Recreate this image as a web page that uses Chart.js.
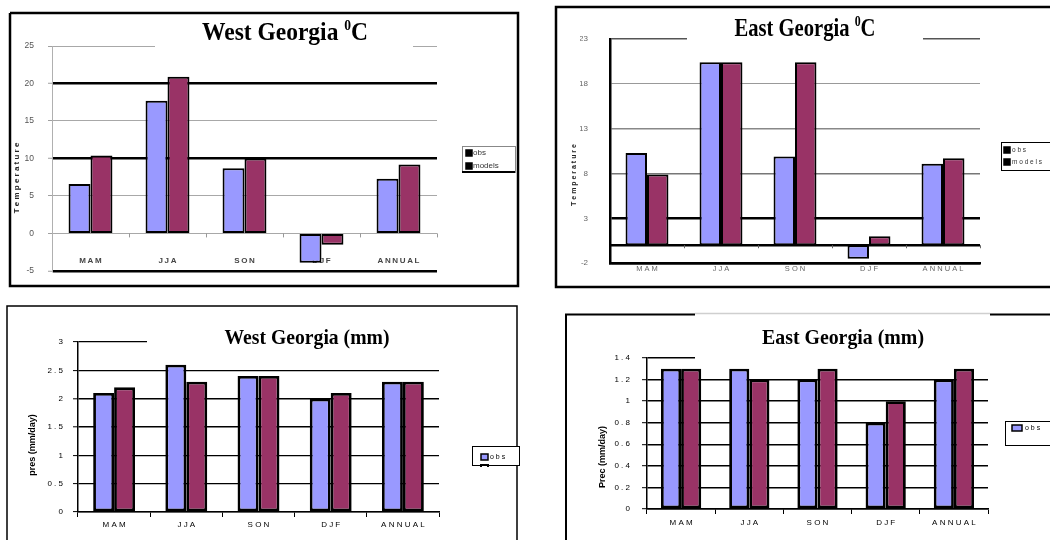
<!DOCTYPE html>
<html>
<head>
<meta charset="utf-8">
<script src="https://cdn.jsdelivr.net/npm/chart.js@4"></script>
<style>
  html, body { margin: 0; padding: 0; background: #fff; }
  body { width: 1050px; height: 540px; position: relative; overflow: hidden; }
  canvas { position: absolute; }
</style>
</head>
<body>
<canvas id="westTemp" width="525" height="290" style="left:0;top:0"></canvas>
<canvas id="eastTemp" width="510" height="290" style="left:540px;top:0"></canvas>
<canvas id="westPrec" width="530" height="250" style="left:0;top:290px"></canvas>
<canvas id="eastPrec" width="510" height="250" style="left:540px;top:290px"></canvas>
<script>
// Seasons shown on every panel
const seasons = ['MAM', 'JJA', 'SON', 'DJF', 'ANNUAL'];
const seriesNames = ['obs', 'models'];

// Mean temperature (deg C)
const westTempObs    = [6.6, 17.7, 8.7, -3.9, 7.3];
const westTempModels = [10.4, 20.9, 10.0, -1.5, 9.2];
const eastTempObs    = [10.3, 20.4, 9.9, -1.5, 9.1];
const eastTempModels = [7.9, 20.4, 20.4, 1.0, 9.7];

// Mean precipitation (mm/day)
const westPrecObs    = [2.1, 2.6, 2.4, 2.0, 2.3];
const westPrecModels = [2.2, 2.3, 2.4, 2.1, 2.3];
const eastPrecObs    = [1.3, 1.3, 1.2, 0.8, 1.2];
const eastPrecModels = [1.3, 1.2, 1.3, 1.0, 1.3];

// Value-axis tick marks
const westTempTicks = [-5, 0, 5, 10, 15, 20, 25];
const eastTempTicks = [-2, 3, 8, 13, 18, 23];
const westPrecTicks = [0, 0.5, 1, 1.5, 2, 2.5, 3];
const eastPrecTicks = [0, 0.2, 0.4, 0.6, 0.8, 1, 1.2, 1.4];

const OBS_COLOR = '#9999ff';
const MOD_COLOR = '#993366';
const SANS = '"Liberation Sans", Arial, sans-serif';
const SERIF = '"Liberation Serif", "Times New Roman", serif';

const spaced = s => String(s).split('').join(' ');
const thinSpaced = s => String(s).split('').join('\u2009');

// Heading drawn on a white plate that masks the top grid line
function drawHeading(ctx, t) {
  ctx.save();
  ctx.fillStyle = '#fff';
  ctx.fillRect(t.plate[0], t.plate[1], t.plate[2], t.plate[3]);
  if (t.edge) {
    ctx.strokeStyle = t.edge;
    ctx.lineWidth = 1.5;
    ctx.beginPath();
    ctx.moveTo(t.plate[0], t.plate[1] + 0.5);
    ctx.lineTo(t.plate[0] + t.plate[2], t.plate[1] + 0.5);
    ctx.stroke();
  }
  const mainFont = `bold ${t.size}px ${SERIF}`;
  const supFont = `bold ${Math.round(t.size * 0.58)}px ${SERIF}`;
  let total = 0;
  const widths = t.parts.map(p => {
    ctx.font = p.sup ? supFont : mainFont;
    const w = ctx.measureText(p.text).width;
    total += w;
    return w;
  });
  const sx = t.width / total;
  ctx.translate(t.cx - t.width / 2, t.base);
  ctx.scale(sx, 1);
  ctx.fillStyle = '#000';
  ctx.textBaseline = 'alphabetic';
  let x = 0;
  t.parts.forEach((p, i) => {
    ctx.font = p.sup ? supFont : mainFont;
    ctx.fillText(p.text, x, p.sup ? -t.size * 0.4 : 0);
    x += widths[i];
  });
  ctx.restore();
}

function decorPlugin(o) {
  return {
    id: 'panelDecor',
    beforeDraw(chart) {
      const ctx = chart.ctx;
      ctx.save();
      ctx.lineJoin = 'miter';
      for (const f of o.frame) {
        ctx.strokeStyle = f.color;
        ctx.lineWidth = f.width;
        ctx.beginPath();
        f.pts.forEach((p, i) => i ? ctx.lineTo(p[0], p[1]) : ctx.moveTo(p[0], p[1]));
        ctx.stroke();
      }
      ctx.restore();
    },
    beforeDatasetsDraw(chart) {
      const ctx = chart.ctx;
      const area = chart.chartArea;
      const yz = chart.scales.y.getPixelForValue(0);
      ctx.save();
      if (o.zero) {
        if (o.zero.line) {
          ctx.strokeStyle = o.zero.color;
          ctx.lineWidth = o.zero.line;
          ctx.beginPath();
          ctx.moveTo(area.left, yz);
          ctx.lineTo(area.right, yz);
          ctx.stroke();
        }
        const step = (area.right - area.left) / seasons.length;
        ctx.strokeStyle = o.zero.tickColor;
        ctx.lineWidth = 1;
        for (let k = 1; k <= seasons.length; k++) {
          const x = Math.round(area.left + k * step) + 0.5;
          ctx.beginPath();
          ctx.moveTo(x, yz);
          ctx.lineTo(x, yz + o.zero.tick);
          ctx.stroke();
        }
      }
      ctx.restore();
      drawHeading(ctx, o.heading);
    },
    afterDraw(chart) {
      const ctx = chart.ctx;
      // rotated value-axis caption
      const s = o.side;
      ctx.save();
      ctx.translate(s.x, s.y);
      ctx.rotate(-Math.PI / 2);
      ctx.font = `bold ${s.size}px ${SANS}`;
      ctx.fillStyle = s.color;
      ctx.textAlign = 'center';
      ctx.textBaseline = 'middle';
      ctx.fillText(s.text, 0, 0);
      ctx.restore();

      // boxed legend
      const L = o.legend;
      ctx.save();
      ctx.fillStyle = '#fff';
      ctx.fillRect(L.x, L.y, L.w, L.h);
      ctx.strokeStyle = L.border;
      ctx.lineWidth = 1;
      ctx.strokeRect(L.x + 0.5, L.y + 0.5, L.w, L.h);
      if (L.bottom) {
        ctx.strokeStyle = '#000';
        ctx.lineWidth = L.bottom;
        ctx.beginPath();
        ctx.moveTo(L.x, L.y + L.h);
        ctx.lineTo(L.x + L.w, L.y + L.h);
        ctx.stroke();
      }
      ctx.beginPath();
      ctx.rect(L.x, L.y, L.w + 1, L.h + 2);
      ctx.clip();
      chart.data.datasets.forEach((ds, i) => {
        if (i >= L.rows) return;
        const ry = L.y + L.first + i * L.step;
        ctx.fillStyle = L.swatch || ds.backgroundColor;
        ctx.fillRect(L.sx, ry - L.sh / 2, L.sw, L.sh);
        ctx.strokeStyle = '#000';
        ctx.lineWidth = 1.5;
        ctx.strokeRect(L.sx, ry - L.sh / 2, L.sw, L.sh);
        ctx.font = `${L.size}px ${SANS}`;
        ctx.fillStyle = L.color;
        ctx.textBaseline = 'middle';
        ctx.fillText(L.fmt(ds.label), L.sx + L.sw + L.gap, ry);
      });
      if (L.ghost) {
        // next entry's swatch peeking under the lower edge
        const ry = L.y + L.first + L.rows * L.step;
        ctx.strokeStyle = '#000';
        ctx.lineWidth = 2;
        ctx.strokeRect(L.sx, ry - L.sh / 2, L.sw, L.sh);
      }
      ctx.restore();
    }
  };
}

function buildChart(id, o) {
  const lineStyle = v => o.grid[String(v)] || o.gridDefault;
  const ds = (label, data, color) => ({
    label, data,
    backgroundColor: color,
    borderColor: '#000',
    borderWidth: o.barBorder,
    borderSkipped: false,
    categoryPercentage: o.cat,
    barPercentage: 1
  });
  return new Chart(document.getElementById(id), {
    type: 'bar',
    data: {
      labels: seasons,
      datasets: [ds(seriesNames[0], o.obs, OBS_COLOR), ds(seriesNames[1], o.models, MOD_COLOR)]
    },
    options: {
      responsive: false,
      animation: false,
      devicePixelRatio: 1,
      layout: { padding: o.pad },
      plugins: { legend: { display: false }, tooltip: { enabled: false }, title: { display: false } },
      scales: {
        x: {
          grid: {
            drawOnChartArea: false,
            drawTicks: o.xTicks > 0,
            tickLength: o.xTicks,
            tickColor: '#000',
            tickWidth: 1
          },
          border: o.xBorder ? { display: true, color: '#000', width: o.xBorder } : { display: false },
          ticks: {
            mirror: !!o.xMirror,
            padding: o.xPad,
            color: o.xColor,
            font: { family: SANS, size: o.xSize, weight: o.xWeight },
            callback: (v, i) => o.xFmt(seasons[i]),
            maxRotation: 0,
            autoSkip: false
          },
          afterFit: s => { s.height = o.xH; }
        },
        y: {
          min: o.ticks[0],
          max: o.ticks[o.ticks.length - 1],
          afterBuildTicks: s => { s.ticks = o.ticks.map(v => ({ value: v })); },
          grid: {
            color: c => lineStyle(c.tick.value)[0],
            lineWidth: c => lineStyle(c.tick.value)[1],
            drawTicks: o.yTicks > 0,
            tickLength: o.yTicks,
            tickColor: o.yTickColor,
            tickWidth: 1
          },
          border: { display: true, color: o.yBorder[0], width: o.yBorder[1] },
          ticks: {
            padding: o.yPad,
            color: o.yColor,
            font: { family: SANS, size: o.ySize },
            callback: v => o.yFmt(v)
          },
          afterFit: s => { s.width = o.yW; }
        }
      }
    },
    plugins: [decorPlugin(o)]
  });
}

const BLACK = ['#000', 2.5];
const PLAIN = ['#000', 1.2];

buildChart('westTemp', {
  obs: westTempObs, models: westTempModels, ticks: westTempTicks,
  cat: 0.57, barBorder: 2,
  pad: { left: 22, right: 88, top: 46, bottom: 10 },
  yW: 30, xH: 4,
  grid: { '20': BLACK, '10': BLACK, '-5': BLACK }, gridDefault: ['#a8a8a8', 1],
  yBorder: ['#b0b0b0', 1], yTicks: 4, yTickColor: '#a0a0a0', yPad: 14,
  yColor: '#555', ySize: 8.5, yFmt: v => String(v),
  xTicks: 0, xBorder: 0, xMirror: true, xPad: 5, xColor: '#444', xSize: 8, xWeight: 'bold', xFmt: thinSpaced,
  zero: { line: 0, tick: 4, tickColor: '#999' },
  frame: [{ color: '#000', width: 2.5, pts: [[10, 13], [518, 13], [518, 286], [10, 286], [10, 13]] }],
  heading: { parts: [{ text: 'West Georgia ' }, { text: '0', sup: true }, { text: 'C' }],
             cx: 285, base: 40, size: 26, width: 166, plate: [155, 15, 258, 33] },
  side: { text: 'T e m p e r a t u r e', x: 17, y: 178, size: 8, color: '#222' },
  legend: { x: 462, y: 146, w: 53, h: 26, border: '#888', bottom: 2, rows: 2, first: 7, step: 13,
            sx: 466, sw: 6, sh: 6, gap: 1, size: 8, color: '#333', swatch: '#000', fmt: s => s }
});

buildChart('eastTemp', {
  obs: eastTempObs, models: eastTempModels, ticks: eastTempTicks,
  cat: 0.58, barBorder: 2,
  pad: { left: 40, right: 70, top: 39, bottom: 7 },
  yW: 30, xH: 16,
  grid: { '23': ['#555', 1.5], '18': ['#999', 1], '13': ['#888', 1.5], '8': ['#777', 1.5], '3': BLACK, '-2': BLACK },
  gridDefault: ['#999', 1],
  yBorder: ['#000', 2.5], yTicks: 0, yTickColor: '#000', yPad: 22,
  yColor: '#666', ySize: 8, yFmt: v => String(v),
  xTicks: 0, xBorder: 2.5, xPad: 1, xColor: '#666', xSize: 7.5, xWeight: 'normal', xFmt: spaced,
  zero: { line: 2.5, color: '#000', tick: 3, tickColor: '#666' },
  frame: [{ color: '#000', width: 2.5, pts: [[515, 7], [16, 7], [16, 287], [515, 287]] }],
  heading: { parts: [{ text: 'East Georgia ' }, { text: '0', sup: true }, { text: 'C' }],
             cx: 265, base: 36, size: 26, width: 141, plate: [147, 9, 236, 32] },
  side: { text: 'T e m p e r a t u r e', x: 34, y: 175, size: 7, color: '#222' },
  legend: { x: 461, y: 142, w: 55, h: 28, border: '#000', bottom: 0, rows: 2, first: 8, step: 12,
            sx: 464, sw: 6, sh: 6, gap: 2, size: 6.5, color: '#333', swatch: '#000', fmt: spaced }
});

buildChart('westPrec', {
  obs: westPrecObs, models: westPrecModels, ticks: westPrecTicks,
  cat: 0.58, barBorder: 2.8,
  pad: { left: 38, right: 91, top: 52, bottom: 6 },
  yW: 40, xH: 22,
  grid: { '2': ['#000', 1.6], '1.5': ['#000', 1.6] }, gridDefault: PLAIN,
  yBorder: ['#000', 1.5], yTicks: 5, yTickColor: '#000', yPad: 10,
  yColor: '#000', ySize: 8, yFmt: spaced,
  xTicks: 5, xBorder: 1.5, xPad: 3, xColor: '#000', xSize: 8, xWeight: 'normal', xFmt: spaced,
  zero: null,
  frame: [{ color: '#000', width: 1.5, pts: [[7, 255], [7, 16], [517, 16], [517, 255]] }],
  heading: { parts: [{ text: 'West Georgia (mm)' }],
             cx: 307, base: 54, size: 21, width: 165, plate: [147, 18, 300, 36] },
  side: { text: 'pres (mm/day)', x: 33, y: 155, size: 9, color: '#000' },
  legend: { x: 472, y: 156, w: 47, h: 19, border: '#000', bottom: 0, rows: 1, first: 11, step: 11, ghost: true,
            sx: 481, sw: 7, sh: 6, gap: 2, size: 7, color: '#000', fmt: spaced }
});

buildChart('eastPrec', {
  obs: eastPrecObs, models: eastPrecModels, ticks: eastPrecTicks,
  cat: 0.59, barBorder: 2.8,
  pad: { left: 67, right: 62, top: 68, bottom: 9 },
  yW: 40, xH: 22,
  grid: {}, gridDefault: ['#000', 1.4],
  yBorder: ['#000', 1.5], yTicks: 5, yTickColor: '#000', yPad: 12,
  yColor: '#000', ySize: 8, yFmt: spaced,
  xTicks: 5, xBorder: 1.5, xPad: 3.5, xColor: '#000', xSize: 8, xWeight: 'normal', xFmt: spaced,
  zero: null,
  frame: [{ color: '#000', width: 2, pts: [[26, 255], [26, 24.5], [515, 24.5]] }],
  heading: { parts: [{ text: 'East Georgia (mm)' }],
             cx: 303, base: 54, size: 21, width: 162, plate: [155, 23, 295, 48], edge: '#cfcfcf' },
  side: { text: 'Prec (mm/day)', x: 63, y: 167, size: 9, color: '#000' },
  legend: { x: 465, y: 131, w: 50, h: 24, border: '#000', bottom: 0, rows: 1, first: 7, step: 11,
            sx: 472, sw: 10, sh: 6, gap: 3, size: 7, color: '#000', fmt: spaced }
});
</script>
</body>
</html>
